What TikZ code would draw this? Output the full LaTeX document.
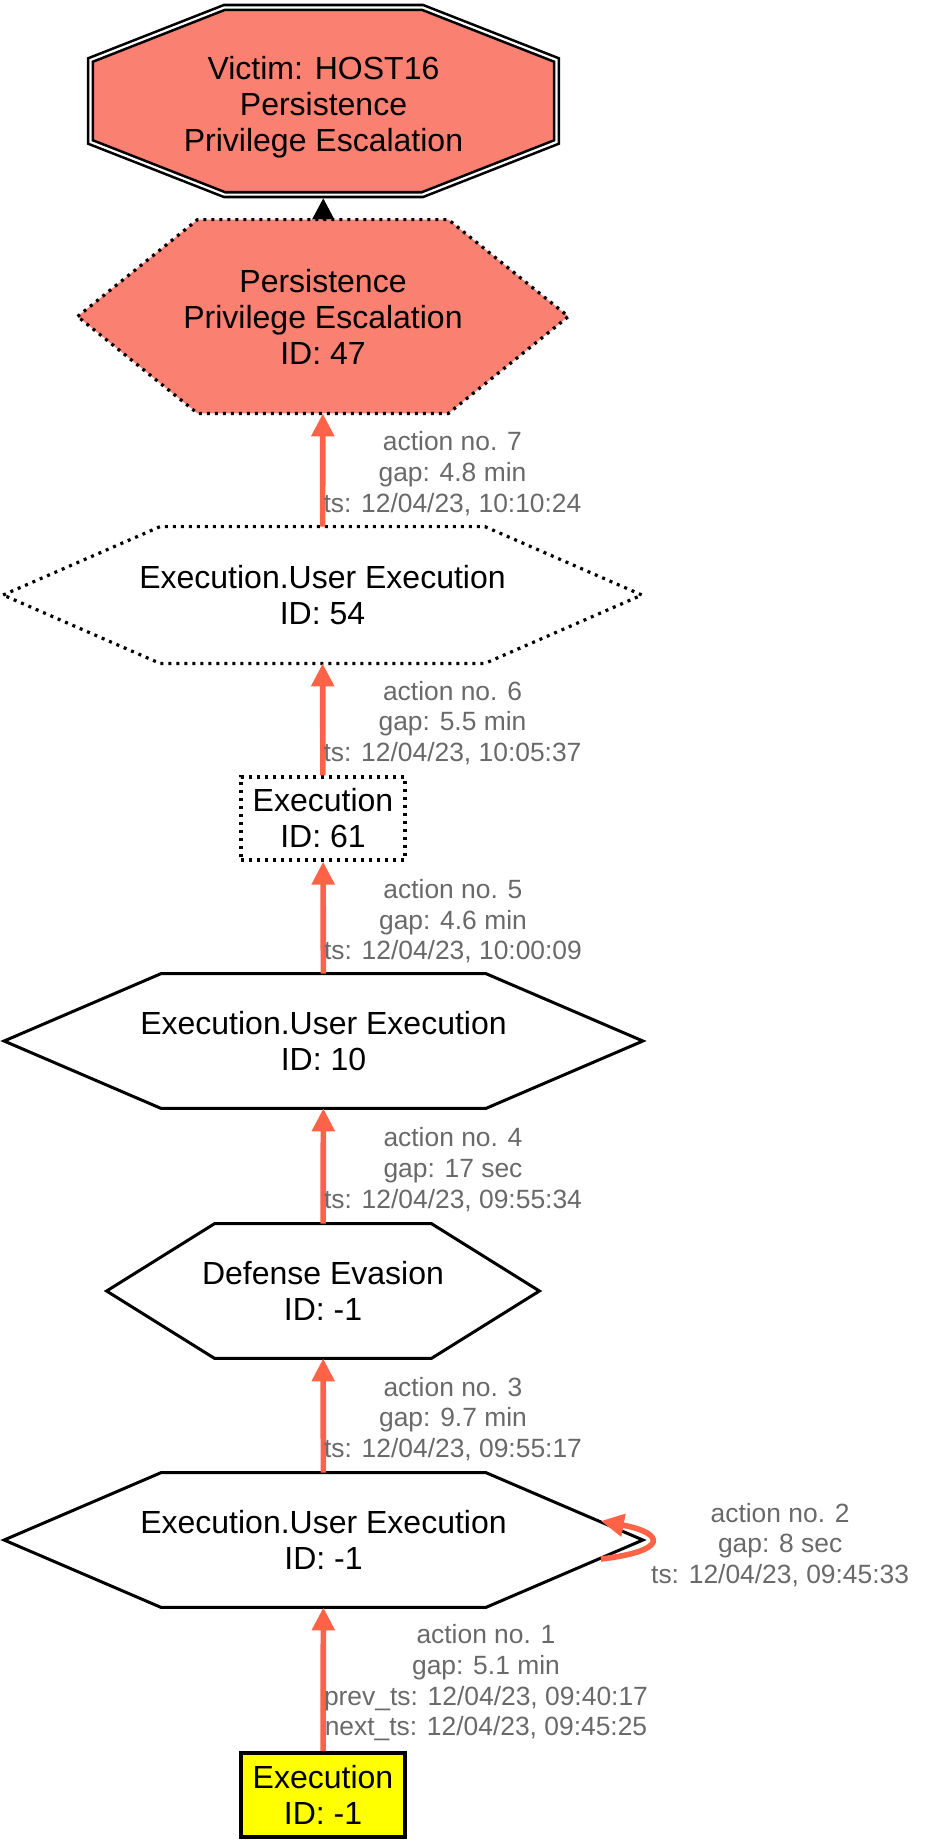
\documentclass[tikz,border=0pt]{standalone}
\usepackage{fontspec}
\setmainfont{Liberation Sans}
\usepackage{tikz}
\usetikzlibrary{arrows.meta,backgrounds}
\definecolor{salmonfill}{HTML}{FA8072}
\definecolor{tomatoline}{HTML}{FF6347}
\definecolor{labelgray}{HTML}{696969}
\definecolor{startfill}{HTML}{FFFF00}
\tikzstyle{tnode} = [rectangle, inner sep=0pt, align=center, font=\fontsize{16}{18}\selectfont]
\tikzstyle{solidline} = [draw=black, line width=1.5pt]
\tikzstyle{dotline} = [draw=black, line width=1.6pt, dash pattern=on 1.5pt off 2.5pt]
\tikzstyle{action} = [draw=tomatoline, line width=2.8pt, -{Triangle[length=11.5pt,width=11pt]}]
\tikzstyle{edgelabel} = [text=labelgray, anchor=west, inner sep=0pt, xshift=-1pt, yshift=-1.8pt, align=center, font=\fontsize{13.2}{15.4}\selectfont]
% hexagon round a node, #2 = inset of the top and bottom corners
\newcommand{\hexpath}[2]{(#1.west) -- ([xshift=#2]#1.north west) -- ([xshift=-#2]#1.north east) -- (#1.east) -- ([xshift=-#2]#1.south east) -- ([xshift=#2]#1.south west) -- cycle}

\begin{document}
\begin{tikzpicture}[x=0.5pt,y=-0.5pt]
	\useasboundingbox (0,0) rectangle (926,1842);
	\coordinate (vc) at (323.5,101);
	\node[tnode, minimum width=233pt, minimum height=91pt] (victim) at (323.5,107) {Victim: HOST16\\Persistence\\Privilege Escalation};
	\node[tnode, minimum width=245pt, minimum height=96.5pt] (n47) at (323,316.5) {Persistence\\Privilege Escalation\\ID: 47};
	\node[tnode, minimum width=319pt, minimum height=68pt] (n54) at (322.5,595) {Execution.User Execution\\ID: 54};
	\node[tnode, dotline, minimum width=82pt, minimum height=41.5pt] (n61) at (323,818.5) {Execution\\ID: 61};
	\node[tnode, minimum width=319pt, minimum height=67pt] (n10) at (323.5,1041) {Execution.User Execution\\ID: 10};
	\node[tnode, minimum width=216pt, minimum height=67pt] (ndef) at (323,1291) {Defense Evasion\\ID: -1};
	\node[tnode, minimum width=319pt, minimum height=67pt] (nm1) at (323.5,1540) {Execution.User Execution\\ID: -1};
	\node[tnode, draw, fill=startfill, line width=2pt, minimum width=82pt, minimum height=42pt] (start) at (323,1795) {Execution\\ID: -1};

	\begin{scope}[on background layer]
		\draw[fill=salmonfill, line width=1.3pt, double, double distance=1.1pt]
			([shift={(-116.5pt,20.5pt)}]vc) -- ([shift={(-49.5pt,46.8pt)}]vc) -- ([shift={(49.5pt,46.8pt)}]vc) -- ([shift={(116.5pt,20.5pt)}]vc)
			-- ([shift={(116.5pt,-20.5pt)}]vc) -- ([shift={(49.5pt,-46.8pt)}]vc) -- ([shift={(-49.5pt,-46.8pt)}]vc) -- ([shift={(-116.5pt,-20.5pt)}]vc) -- cycle;
		\draw[dotline, fill=salmonfill] \hexpath{n47}{60pt};
		\draw[dotline] \hexpath{n54}{78.5pt};
		\draw[solidline] \hexpath{n10}{78.5pt};
		\draw[solidline] \hexpath{ndef}{54pt};
		\draw[solidline] \hexpath{nm1}{78.5pt};
	\end{scope}

	\draw[-{Triangle[length=10.5pt,width=11pt]}, line width=0.8pt] (n47) -- (victim);
	\draw[action] (n54) -- node[edgelabel] (lbl7) {action no. 7\\gap: 4.8 min\\ts: 12/04/23, 10:10:24} (n47);
	\draw[action] (n61) -- node[edgelabel] (lbl6) {action no. 6\\gap: 5.5 min\\ts: 12/04/23, 10:05:37} (n54);
	\draw[action] (n10) -- node[edgelabel] (lbl5) {action no. 5\\gap: 4.6 min\\ts: 12/04/23, 10:00:09} (n61);
	\draw[action] (ndef) -- node[edgelabel] (lbl4) {action no. 4\\gap: 17 sec\\ts: 12/04/23, 09:55:34} (n10);
	\draw[action] (nm1) -- node[edgelabel] (lbl3) {action no. 3\\gap: 9.7 min\\ts: 12/04/23, 09:55:17} (ndef);
	\draw[action] ([shift={(-21pt,-9.5pt)}]nm1.east) .. controls +(34pt,4pt) and +(32pt,-6pt) .. ([shift={(-21pt,9.5pt)}]nm1.east)
		node[edgelabel, pos=0.5] (lbl2) {action no. 2\\gap: 8 sec\\ts: 12/04/23, 09:45:33};
	\draw[action] (start) -- node[edgelabel] (lbl1) {action no. 1\\gap: 5.1 min\\prev\_ts: 12/04/23, 09:40:17\\next\_ts: 12/04/23, 09:45:25} (nm1);
\end{tikzpicture}
\end{document}
